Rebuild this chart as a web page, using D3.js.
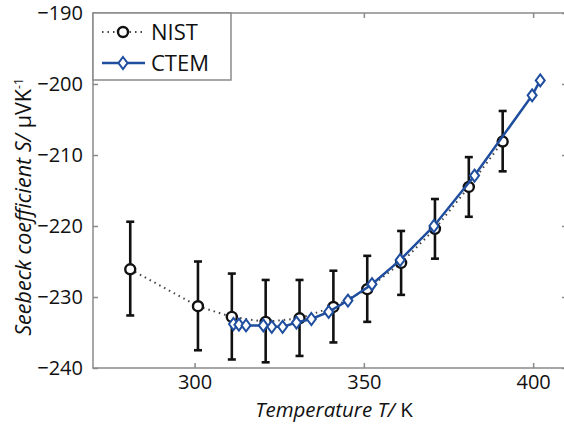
<!DOCTYPE html>
<html>
<head>
<meta charset="utf-8">
<script src="https://cdn.jsdelivr.net/npm/d3@7"></script>
<style>
  body { margin: 0; background: #fff; }
  text { font-family: "Open Sans", sans-serif; fill: #111; }
</style>
</head>
<body>
<script>
var width = 564,
    height = 425;

// NIST reference data with error bars
var nistT = [281, 301, 311, 321, 331, 341, 351, 361, 371, 381, 391];
var nistS = [-226.1, -231.3, -232.8, -233.5, -233.0, -231.4, -228.9, -225.2, -220.4, -214.5, -208.1];
var nistHi = [-219.4, -225.0, -226.7, -227.6, -227.6, -226.3, -224.2, -220.7, -216.2, -210.3, -203.8];
var nistLo = [-232.6, -237.5, -238.8, -239.2, -238.3, -236.4, -233.5, -229.7, -224.6, -218.7, -212.3];

// CTEM measurement
var ctemT = [311.5, 313.1, 315.2, 320.3, 322.8, 326.0, 330.1, 334.5, 339.6, 345.3, 352.4, 360.7, 370.7, 382.7, 399.7, 402.1];
var ctemS = [-233.8, -233.9, -234.0, -234.0, -234.2, -234.2, -233.6, -233.1, -232.1, -230.5, -228.2, -224.8, -220.0, -212.9, -201.6, -199.5];

var xTicks = [300, 350, 400];
var yTicks = [-190, -200, -210, -220, -230, -240];

var margin = {left: 93, top: 13, right: 567, bottom: 368};
var blue = '#1f4e9e';

var svg = d3.select('body')
  .append('svg')
  .attr('width', width)
  .attr('height', height);

var x = d3.scaleLinear().domain([270, 410]).range([margin.left, margin.right]);
var y = d3.scaleLinear().domain([-240, -190]).range([margin.bottom, margin.top]);

var fmt = function (d) { return d < 0 ? '\u2212' + Math.abs(d) : d; };

// frame
svg.append('rect')
  .attr('x', margin.left)
  .attr('y', margin.top)
  .attr('width', margin.right - margin.left)
  .attr('height', margin.bottom - margin.top)
  .attr('fill', 'none')
  .attr('stroke', '#8a8a8a')
  .attr('stroke-width', 1.5);

// axes with inward ticks
var axisStyle = function (g) {
  g.select('.domain').remove();
  g.selectAll('.tick line').attr('stroke', '#8a8a8a').attr('stroke-width', 1.5);
  g.selectAll('.tick text')
    .style('font-size', '20px')
    .attr('fill', '#111');
};

svg.append('g')
  .attr('transform', 'translate(0,' + margin.bottom + ')')
  .call(d3.axisBottom(x).tickValues(xTicks).tickSize(-5).tickPadding(7))
  .call(axisStyle);

svg.append('g')
  .attr('transform', 'translate(0,' + margin.top + ')')
  .call(d3.axisTop(x).tickValues(xTicks).tickSize(-5).tickFormat(''))
  .call(axisStyle);

svg.append('g')
  .attr('transform', 'translate(' + margin.left + ',0)')
  .call(d3.axisLeft(y).tickValues(yTicks).tickSize(-5).tickPadding(10).tickFormat(fmt))
  .call(axisStyle);

svg.append('g')
  .attr('transform', 'translate(' + margin.right + ',0)')
  .call(d3.axisRight(y).tickValues(yTicks).tickSize(-5).tickFormat(''))
  .call(axisStyle);

// NIST dotted line
var nist = nistT.map(function (t, i) {
  return {t: t, s: nistS[i], hi: nistHi[i], lo: nistLo[i]};
});

var line = d3.line()
  .x(function (d) { return x(d.t); })
  .y(function (d) { return y(d.s); });

svg.append('path')
  .datum(nist)
  .attr('d', line)
  .attr('fill', 'none')
  .attr('stroke', '#444')
  .attr('stroke-width', 2)
  .attr('stroke-dasharray', '1.5,4');

// error bars
var err = svg.append('g')
  .selectAll('g')
  .data(nist)
  .enter().append('g')
  .attr('stroke', '#111')
  .attr('stroke-width', 2.6);

err.append('line')
  .attr('x1', function (d) { return x(d.t); })
  .attr('x2', function (d) { return x(d.t); })
  .attr('y1', function (d) { return y(d.hi); })
  .attr('y2', function (d) { return y(d.lo); });

err.append('line')
  .attr('x1', function (d) { return x(d.t) - 4; })
  .attr('x2', function (d) { return x(d.t) + 4; })
  .attr('y1', function (d) { return y(d.hi); })
  .attr('y2', function (d) { return y(d.hi); });

err.append('line')
  .attr('x1', function (d) { return x(d.t) - 4; })
  .attr('x2', function (d) { return x(d.t) + 4; })
  .attr('y1', function (d) { return y(d.lo); })
  .attr('y2', function (d) { return y(d.lo); });

svg.append('g')
  .selectAll('circle')
  .data(nist)
  .enter().append('circle')
  .attr('cx', function (d) { return x(d.t); })
  .attr('cy', function (d) { return y(d.s); })
  .attr('r', 5)
  .attr('fill', '#fff')
  .attr('stroke', '#111')
  .attr('stroke-width', 2.4);

// CTEM line and diamonds
var ctem = ctemT.map(function (t, i) { return {t: t, s: ctemS[i]}; });

svg.append('path')
  .datum(ctem)
  .attr('d', line)
  .attr('fill', 'none')
  .attr('stroke', blue)
  .attr('stroke-width', 2.5);

var diamond = 'M0,-6L4.5,0L0,6L-4.5,0Z';

svg.append('g')
  .selectAll('path')
  .data(ctem)
  .enter().append('path')
  .attr('transform', function (d) { return 'translate(' + x(d.t) + ',' + y(d.s) + ')'; })
  .attr('d', diamond)
  .attr('fill', '#fff')
  .attr('stroke', blue)
  .attr('stroke-width', 2);

// legend
var legend = svg.append('g');

legend.append('rect')
  .attr('x', margin.left)
  .attr('y', margin.top)
  .attr('width', 138)
  .attr('height', 67)
  .attr('fill', '#fff')
  .attr('stroke', '#8a8a8a')
  .attr('stroke-width', 1.5);

legend.append('line')
  .attr('x1', 102).attr('x2', 145)
  .attr('y1', 32).attr('y2', 32)
  .attr('stroke', '#444')
  .attr('stroke-width', 2)
  .attr('stroke-dasharray', '1.5,4');

legend.append('circle')
  .attr('cx', 123).attr('cy', 32).attr('r', 5)
  .attr('fill', '#fff')
  .attr('stroke', '#111')
  .attr('stroke-width', 2.4);

legend.append('line')
  .attr('x1', 102).attr('x2', 145)
  .attr('y1', 63).attr('y2', 63)
  .attr('stroke', blue)
  .attr('stroke-width', 2.5);

legend.append('path')
  .attr('transform', 'translate(123,63)')
  .attr('d', diamond)
  .attr('fill', '#fff')
  .attr('stroke', blue)
  .attr('stroke-width', 2);

legend.append('text')
  .attr('x', 151).attr('y', 40)
  .style('font-size', '22px')
  .text('NIST');

legend.append('text')
  .attr('x', 151).attr('y', 71)
  .style('font-size', '22px')
  .text('CTEM');

// axis titles
var xt = svg.append('text')
  .attr('x', 334)
  .attr('y', 417)
  .attr('text-anchor', 'middle')
  .style('font-size', '20.5px');
xt.append('tspan').style('font-style', 'italic').text('Temperature T/');
xt.append('tspan').text(' K');

var yt = svg.append('text')
  .attr('transform', 'translate(31,207) rotate(-90)')
  .attr('text-anchor', 'middle')
  .style('font-size', '21.5px');
yt.append('tspan').style('font-style', 'italic').text('Seebeck coefficient S/');
yt.append('tspan').text(' \u03bcVK');
yt.append('tspan').attr('dy', -8).style('font-size', '12px').text('-1');
</script>
</body>
</html>
